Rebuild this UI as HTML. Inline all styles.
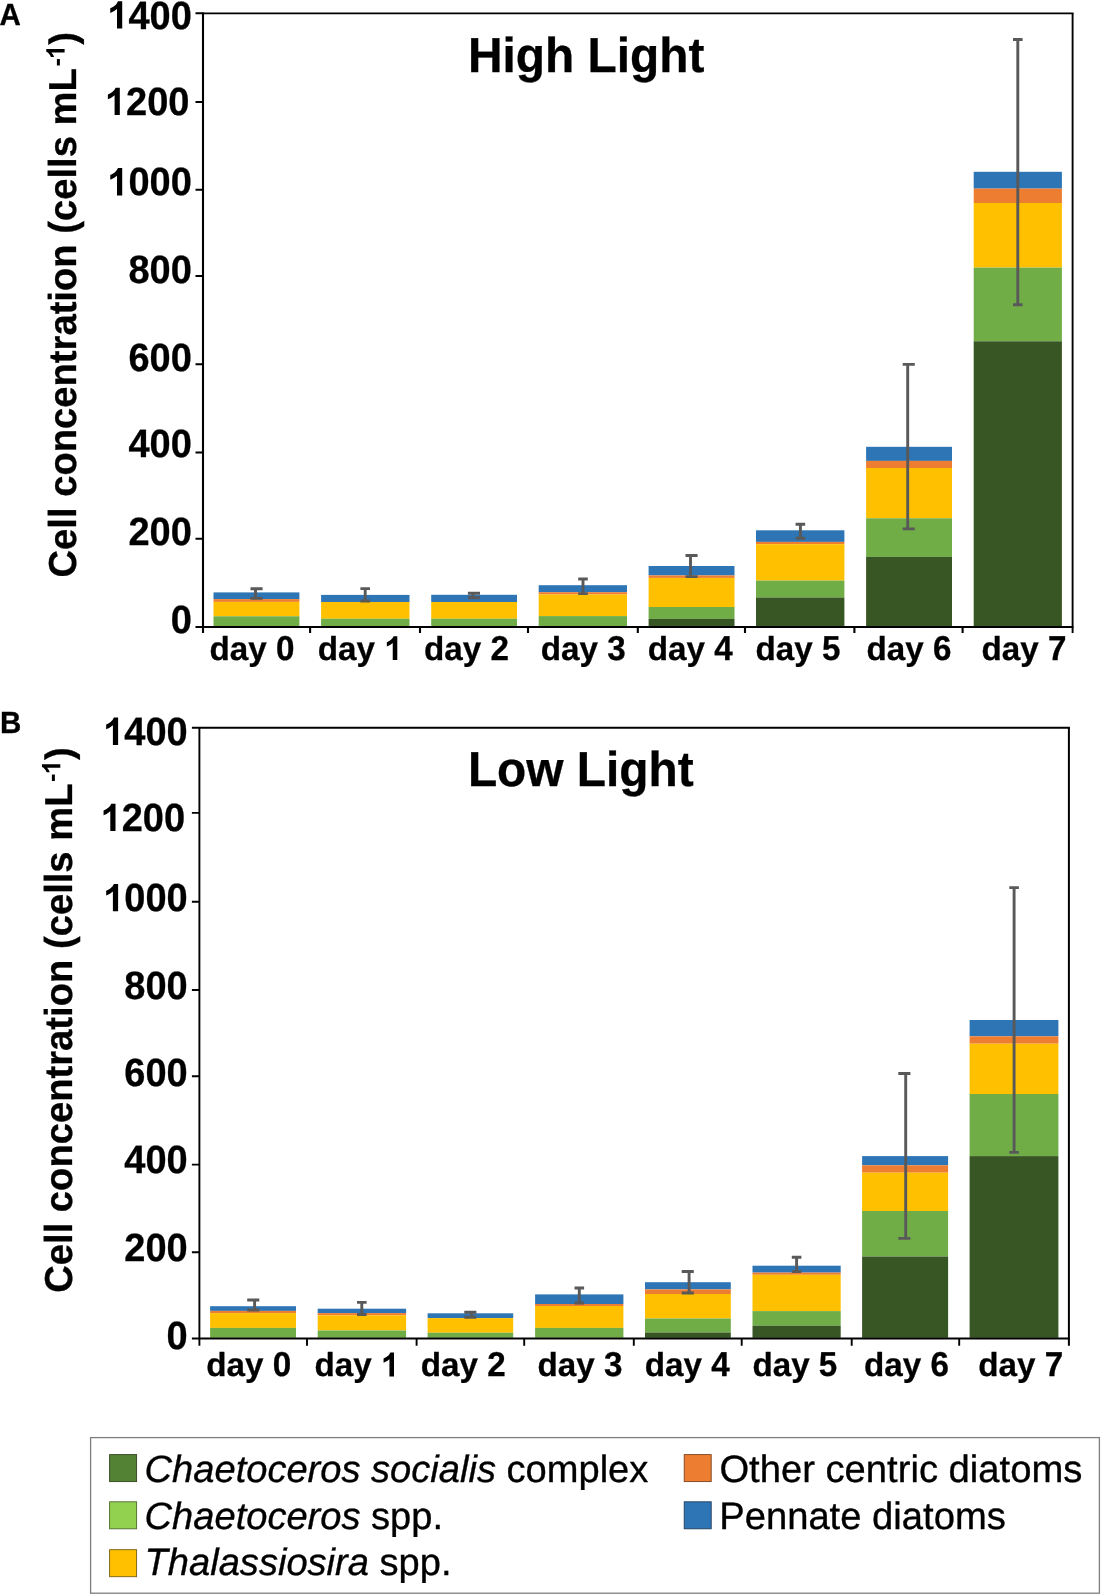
<!DOCTYPE html>
<html><head><meta charset="utf-8"><title>Figure</title>
<style>
html,body{margin:0;padding:0;background:#fff;}
svg{display:block;will-change:transform;}
text{font-family:"Liberation Sans", sans-serif;fill:#000;text-rendering:geometricPrecision;}
</style></head>
<body>
<svg width="1103" height="1596" viewBox="0 0 1103 1596">
<rect width="1103" height="1596" fill="#fff"/>
<g id="panelA">
<rect x="213.50" y="592.40" width="85.90" height="6.70" fill="#2E75B6"/>
<rect x="213.50" y="599.10" width="85.90" height="2.80" fill="#ED7D31"/>
<rect x="213.50" y="601.90" width="85.90" height="14.40" fill="#FFC000"/>
<rect x="213.50" y="616.30" width="85.90" height="9.90" fill="#70AD47"/>
<rect x="321.10" y="594.90" width="88.40" height="7.10" fill="#2E75B6"/>
<rect x="321.10" y="602.00" width="88.40" height="16.70" fill="#FFC000"/>
<rect x="321.10" y="618.70" width="88.40" height="7.50" fill="#70AD47"/>
<rect x="431.20" y="594.80" width="85.80" height="7.20" fill="#2E75B6"/>
<rect x="431.20" y="602.00" width="85.80" height="16.70" fill="#FFC000"/>
<rect x="431.20" y="618.70" width="85.80" height="7.50" fill="#70AD47"/>
<rect x="538.70" y="585.20" width="88.30" height="7.00" fill="#2E75B6"/>
<rect x="538.70" y="592.20" width="88.30" height="2.20" fill="#ED7D31"/>
<rect x="538.70" y="594.40" width="88.30" height="21.70" fill="#FFC000"/>
<rect x="538.70" y="616.10" width="88.30" height="10.10" fill="#70AD47"/>
<rect x="648.60" y="566.00" width="85.90" height="9.40" fill="#2E75B6"/>
<rect x="648.60" y="575.40" width="85.90" height="2.50" fill="#ED7D31"/>
<rect x="648.60" y="577.90" width="85.90" height="29.10" fill="#FFC000"/>
<rect x="648.60" y="607.00" width="85.90" height="11.90" fill="#70AD47"/>
<rect x="648.60" y="618.90" width="85.90" height="7.30" fill="#375623"/>
<rect x="756.00" y="530.30" width="88.40" height="11.60" fill="#2E75B6"/>
<rect x="756.00" y="541.90" width="88.40" height="2.30" fill="#ED7D31"/>
<rect x="756.00" y="544.20" width="88.40" height="36.40" fill="#FFC000"/>
<rect x="756.00" y="580.60" width="88.40" height="16.90" fill="#70AD47"/>
<rect x="756.00" y="597.50" width="88.40" height="28.70" fill="#375623"/>
<rect x="866.10" y="446.80" width="85.90" height="14.10" fill="#2E75B6"/>
<rect x="866.10" y="460.90" width="85.90" height="7.10" fill="#ED7D31"/>
<rect x="866.10" y="468.00" width="85.90" height="50.30" fill="#FFC000"/>
<rect x="866.10" y="518.30" width="85.90" height="38.60" fill="#70AD47"/>
<rect x="866.10" y="556.90" width="85.90" height="69.30" fill="#375623"/>
<rect x="973.70" y="171.80" width="88.20" height="16.80" fill="#2E75B6"/>
<rect x="973.70" y="188.60" width="88.20" height="14.40" fill="#ED7D31"/>
<rect x="973.70" y="203.00" width="88.20" height="64.60" fill="#FFC000"/>
<rect x="973.70" y="267.60" width="88.20" height="73.70" fill="#70AD47"/>
<rect x="973.70" y="341.30" width="88.20" height="284.90" fill="#375623"/>
<path d="M255.50 588.70V598.40M250.50 588.70H262.60M250.50 598.40H262.60" stroke="#595959" stroke-width="2.9" fill="none"/>
<path d="M365.20 588.60V601.00M360.40 588.60H370.00M360.40 601.00H370.00" stroke="#595959" stroke-width="2.9" fill="none"/>
<path d="M472.90 593.20V597.80M467.90 593.20H480.00M467.90 597.80H480.00" stroke="#595959" stroke-width="2.9" fill="none"/>
<path d="M583.00 579.00V593.60M578.20 579.00H587.80M578.20 593.60H587.80" stroke="#595959" stroke-width="2.9" fill="none"/>
<path d="M690.50 555.50V576.60M685.50 555.50H697.60M685.50 576.60H697.60" stroke="#595959" stroke-width="2.9" fill="none"/>
<path d="M800.40 524.30V538.30M795.60 524.30H805.20M795.60 538.30H805.20" stroke="#595959" stroke-width="2.9" fill="none"/>
<path d="M907.70 364.40V528.90M902.70 364.40H914.80M902.70 528.90H914.80" stroke="#595959" stroke-width="2.9" fill="none"/>
<path d="M1017.80 39.50V304.70M1013.00 39.50H1022.60M1013.00 304.70H1022.60" stroke="#595959" stroke-width="2.9" fill="none"/>
<path d="M203 13.3H1073.55" stroke="#000" stroke-width="1.8" fill="none"/>
<path d="M1072.6 13.3V633.0" stroke="#000" stroke-width="1.9" fill="none"/>
<path d="M203 12.5V633.0M195.5 627.0H1073.3999999999999" stroke="#000" stroke-width="2.1" fill="none"/>
<path d="M195.5 13.30H203M195.5 102.00H203M195.5 189.70H203M195.5 276.00H203M195.5 364.30H203M195.5 452.50H203M195.5 538.80H203" stroke="#000" stroke-width="2.1" fill="none"/>
<path d="M310.10 627.0V633.0M420.00 627.0V633.0M528.00 627.0V633.0M637.80 627.0V633.0M745.00 627.0V633.0M854.40 627.0V633.0M962.60 627.0V633.0" stroke="#000" stroke-width="2.1" fill="none"/>
<text transform="translate(191.8 28.6) rotate(0.02) scale(1.0 1.04)" font-size="38" font-weight="bold" stroke="#000" stroke-width="0.3" text-anchor="end">400</text>
<path transform="translate(107.26 28.60) scale(0.01855 -0.01855)" d="M806 0h-281v1059q-154 -144 -363 -213v255q110 36 239 136.5t177 234.5h228z" fill="#000"/>
<text transform="translate(189.4 115.0) rotate(0.02) scale(1.0 1.04)" font-size="38" font-weight="bold" stroke="#000" stroke-width="0.3" text-anchor="end">200</text>
<path transform="translate(104.86 115.00) scale(0.01855 -0.01855)" d="M806 0h-281v1059q-154 -144 -363 -213v255q110 36 239 136.5t177 234.5h228z" fill="#000"/>
<text transform="translate(191.8 195.4) rotate(0.02) scale(1.0 1.04)" font-size="38" font-weight="bold" stroke="#000" stroke-width="0.3" text-anchor="end">000</text>
<path transform="translate(107.26 195.40) scale(0.01855 -0.01855)" d="M806 0h-281v1059q-154 -144 -363 -213v255q110 36 239 136.5t177 234.5h228z" fill="#000"/>
<text transform="translate(191.8 283.3) rotate(0.02) scale(1.0 1.04)" font-size="38" font-weight="bold" stroke="#000" stroke-width="0.3" text-anchor="end">800</text>
<text transform="translate(191.8 370.9) rotate(0.02) scale(1.0 1.04)" font-size="38" font-weight="bold" stroke="#000" stroke-width="0.3" text-anchor="end">600</text>
<text transform="translate(191.8 457.4) rotate(0.02) scale(1.0 1.04)" font-size="38" font-weight="bold" stroke="#000" stroke-width="0.3" text-anchor="end">400</text>
<text transform="translate(191.8 545.3) rotate(0.02) scale(1.0 1.04)" font-size="38" font-weight="bold" stroke="#000" stroke-width="0.3" text-anchor="end">200</text>
<text transform="translate(191.8 632.6) rotate(0.02) scale(1.0 1.04)" font-size="38" font-weight="bold" stroke="#000" stroke-width="0.3" text-anchor="end">0</text>
<text transform="translate(209.5 660.1) rotate(0.02) scale(1.0 1.0)" font-size="33.2" font-weight="bold" stroke="#000" stroke-width="0.3">day</text>
<text transform="translate(275.93 660.1) rotate(0.02) scale(1.0 1.04)" font-size="33.2" font-weight="bold" stroke="#000" stroke-width="0.3">0</text>
<text transform="translate(317.8 660.1) rotate(0.02) scale(1.0 1.0)" font-size="33.2" font-weight="bold" stroke="#000" stroke-width="0.3">day</text>
<path transform="translate(384.23 660.10) scale(0.01621 -0.01621)" d="M806 0h-281v1059q-154 -144 -363 -213v255q110 36 239 136.5t177 234.5h228z" fill="#000"/>
<text transform="translate(424 660.1) rotate(0.02) scale(1.0 1.0)" font-size="33.2" font-weight="bold" stroke="#000" stroke-width="0.3">day</text>
<text transform="translate(490.43 660.1) rotate(0.02) scale(1.0 1.04)" font-size="33.2" font-weight="bold" stroke="#000" stroke-width="0.3">2</text>
<text transform="translate(540.8 660.1) rotate(0.02) scale(1.0 1.0)" font-size="33.2" font-weight="bold" stroke="#000" stroke-width="0.3">day</text>
<text transform="translate(607.23 660.1) rotate(0.02) scale(1.0 1.04)" font-size="33.2" font-weight="bold" stroke="#000" stroke-width="0.3">3</text>
<text transform="translate(647.8 660.1) rotate(0.02) scale(1.0 1.0)" font-size="33.2" font-weight="bold" stroke="#000" stroke-width="0.3">day</text>
<text transform="translate(714.23 660.1) rotate(0.02) scale(1.0 1.04)" font-size="33.2" font-weight="bold" stroke="#000" stroke-width="0.3">4</text>
<text transform="translate(755.6 660.1) rotate(0.02) scale(1.0 1.0)" font-size="33.2" font-weight="bold" stroke="#000" stroke-width="0.3">day</text>
<text transform="translate(822.03 660.1) rotate(0.02) scale(1.0 1.04)" font-size="33.2" font-weight="bold" stroke="#000" stroke-width="0.3">5</text>
<text transform="translate(866.6 660.1) rotate(0.02) scale(1.0 1.0)" font-size="33.2" font-weight="bold" stroke="#000" stroke-width="0.3">day</text>
<text transform="translate(933.03 660.1) rotate(0.02) scale(1.0 1.04)" font-size="33.2" font-weight="bold" stroke="#000" stroke-width="0.3">6</text>
<text transform="translate(981.6 660.1) rotate(0.02) scale(1.0 1.0)" font-size="33.2" font-weight="bold" stroke="#000" stroke-width="0.3">day</text>
<text transform="translate(1048.03 660.1) rotate(0.02) scale(1.0 1.04)" font-size="33.2" font-weight="bold" stroke="#000" stroke-width="0.3">7</text>
<text transform="translate(468.0 72) rotate(0.02) scale(1.0 1.025)" font-size="47.85" font-weight="bold" stroke="#000" stroke-width="0.3">High Light</text>
<text transform="translate(-0.6 25.0) rotate(0.02) scale(1.0 1.035)" font-size="29.5" font-weight="bold" stroke="#000" stroke-width="0.3">A</text>
<g transform="translate(76.3 577.5) rotate(-90)"><text transform="scale(1 1.02)" font-size="38.2" font-weight="bold" stroke="#000" stroke-width="0.3">Cell concentration (cells mL</text><text x="510.9" y="-11.7" font-size="25.5" font-weight="bold">-</text><path transform="translate(518.5 -11.7) scale(0.01245 -0.01245)" d="M806 0h-281v1059q-154 -144 -363 -213v255q110 36 239 136.5t177 234.5h228z" fill="#000"/><text x="532.8" y="0" font-size="38.2" font-weight="bold" stroke="#000" stroke-width="0.3">)</text></g>
</g>
<g id="panelB">
<rect x="210.10" y="1306.20" width="85.90" height="4.70" fill="#2E75B6"/>
<rect x="210.10" y="1310.90" width="85.90" height="2.20" fill="#ED7D31"/>
<rect x="210.10" y="1313.10" width="85.90" height="14.80" fill="#FFC000"/>
<rect x="210.10" y="1327.90" width="85.90" height="9.90" fill="#70AD47"/>
<rect x="317.70" y="1308.70" width="88.40" height="4.40" fill="#2E75B6"/>
<rect x="317.70" y="1313.10" width="88.40" height="2.20" fill="#ED7D31"/>
<rect x="317.70" y="1315.30" width="88.40" height="15.20" fill="#FFC000"/>
<rect x="317.70" y="1330.50" width="88.40" height="7.30" fill="#70AD47"/>
<rect x="427.60" y="1313.30" width="85.60" height="4.80" fill="#2E75B6"/>
<rect x="427.60" y="1318.10" width="85.60" height="14.60" fill="#FFC000"/>
<rect x="427.60" y="1332.70" width="85.60" height="5.10" fill="#70AD47"/>
<rect x="535.10" y="1294.40" width="88.30" height="9.60" fill="#2E75B6"/>
<rect x="535.10" y="1304.00" width="88.30" height="2.00" fill="#ED7D31"/>
<rect x="535.10" y="1306.00" width="88.30" height="21.90" fill="#FFC000"/>
<rect x="535.10" y="1327.90" width="88.30" height="9.90" fill="#70AD47"/>
<rect x="645.00" y="1282.20" width="85.80" height="7.20" fill="#2E75B6"/>
<rect x="645.00" y="1289.40" width="85.80" height="4.60" fill="#ED7D31"/>
<rect x="645.00" y="1294.00" width="85.80" height="24.50" fill="#FFC000"/>
<rect x="645.00" y="1318.50" width="85.80" height="14.00" fill="#70AD47"/>
<rect x="645.00" y="1332.50" width="85.80" height="5.30" fill="#375623"/>
<rect x="752.50" y="1265.70" width="88.20" height="6.90" fill="#2E75B6"/>
<rect x="752.50" y="1272.60" width="88.20" height="2.20" fill="#ED7D31"/>
<rect x="752.50" y="1274.80" width="88.20" height="36.30" fill="#FFC000"/>
<rect x="752.50" y="1311.10" width="88.20" height="14.60" fill="#70AD47"/>
<rect x="752.50" y="1325.70" width="88.20" height="12.10" fill="#375623"/>
<rect x="862.10" y="1156.10" width="86.00" height="9.20" fill="#2E75B6"/>
<rect x="862.10" y="1165.30" width="86.00" height="7.40" fill="#ED7D31"/>
<rect x="862.10" y="1172.70" width="86.00" height="38.30" fill="#FFC000"/>
<rect x="862.10" y="1211.00" width="86.00" height="45.50" fill="#70AD47"/>
<rect x="862.10" y="1256.50" width="86.00" height="81.30" fill="#375623"/>
<rect x="969.60" y="1020.00" width="88.80" height="16.30" fill="#2E75B6"/>
<rect x="969.60" y="1036.30" width="88.80" height="7.40" fill="#ED7D31"/>
<rect x="969.60" y="1043.70" width="88.80" height="50.30" fill="#FFC000"/>
<rect x="969.60" y="1094.00" width="88.80" height="62.10" fill="#70AD47"/>
<rect x="969.60" y="1156.10" width="88.80" height="181.70" fill="#375623"/>
<path d="M254.60 1300.00V1310.00M247.20 1300.00H259.30M247.20 1310.00H259.30" stroke="#595959" stroke-width="2.9" fill="none"/>
<path d="M361.80 1302.40V1314.50M357.00 1302.40H366.60M357.00 1314.50H366.60" stroke="#595959" stroke-width="2.9" fill="none"/>
<path d="M471.70 1312.20V1317.20M464.30 1312.20H476.40M464.30 1317.20H476.40" stroke="#595959" stroke-width="2.9" fill="none"/>
<path d="M579.30 1288.00V1303.00M574.50 1288.00H584.10M574.50 1303.00H584.10" stroke="#595959" stroke-width="2.9" fill="none"/>
<path d="M689.10 1271.50V1293.00M681.70 1271.50H693.80M681.70 1293.00H693.80" stroke="#595959" stroke-width="2.9" fill="none"/>
<path d="M796.60 1257.30V1271.60M791.80 1257.30H801.40M791.80 1271.60H801.40" stroke="#595959" stroke-width="2.9" fill="none"/>
<path d="M905.70 1073.50V1238.40M898.30 1073.50H910.40M898.30 1238.40H910.40" stroke="#595959" stroke-width="2.9" fill="none"/>
<path d="M1014.10 887.60V1152.40M1009.30 887.60H1018.90M1009.30 1152.40H1018.90" stroke="#595959" stroke-width="2.9" fill="none"/>
<path d="M199.4 727.7H1069.9" stroke="#000" stroke-width="1.9" fill="none"/>
<path d="M1068.9 727.7V1345.8" stroke="#000" stroke-width="2.0" fill="none"/>
<path d="M199.4 726.9000000000001V1345.8M191.9 1338.5H1069.7" stroke="#000" stroke-width="1.9" fill="none"/>
<path d="M191.9 727.70H199.4M191.9 812.90H199.4M191.9 901.80H199.4M191.9 990.00H199.4M191.9 1076.20H199.4M191.9 1164.60H199.4M191.9 1252.20H199.4" stroke="#000" stroke-width="1.9" fill="none"/>
<path d="M307.00 1338.5V1345.8M416.60 1338.5V1345.8M524.20 1338.5V1345.8M633.80 1338.5V1345.8M741.70 1338.5V1345.8M851.70 1338.5V1345.8M959.20 1338.5V1345.8" stroke="#000" stroke-width="1.9" fill="none"/>
<text transform="translate(187.7 744.9) rotate(0.02) scale(1.0 1.04)" font-size="38" font-weight="bold" stroke="#000" stroke-width="0.3" text-anchor="end">400</text>
<path transform="translate(103.16 744.90) scale(0.01855 -0.01855)" d="M806 0h-281v1059q-154 -144 -363 -213v255q110 36 239 136.5t177 234.5h228z" fill="#000"/>
<text transform="translate(185.1 831.0) rotate(0.02) scale(1.0 1.04)" font-size="38" font-weight="bold" stroke="#000" stroke-width="0.3" text-anchor="end">200</text>
<path transform="translate(100.56 831.00) scale(0.01855 -0.01855)" d="M806 0h-281v1059q-154 -144 -363 -213v255q110 36 239 136.5t177 234.5h228z" fill="#000"/>
<text transform="translate(187.7 911.2) rotate(0.02) scale(1.0 1.04)" font-size="38" font-weight="bold" stroke="#000" stroke-width="0.3" text-anchor="end">000</text>
<path transform="translate(103.16 911.20) scale(0.01855 -0.01855)" d="M806 0h-281v1059q-154 -144 -363 -213v255q110 36 239 136.5t177 234.5h228z" fill="#000"/>
<text transform="translate(187.7 998.6) rotate(0.02) scale(1.0 1.04)" font-size="38" font-weight="bold" stroke="#000" stroke-width="0.3" text-anchor="end">800</text>
<text transform="translate(187.7 1085.6) rotate(0.02) scale(1.0 1.04)" font-size="38" font-weight="bold" stroke="#000" stroke-width="0.3" text-anchor="end">600</text>
<text transform="translate(187.7 1173.2) rotate(0.02) scale(1.0 1.04)" font-size="38" font-weight="bold" stroke="#000" stroke-width="0.3" text-anchor="end">400</text>
<text transform="translate(187.7 1260.8) rotate(0.02) scale(1.0 1.04)" font-size="38" font-weight="bold" stroke="#000" stroke-width="0.3" text-anchor="end">200</text>
<text transform="translate(187.7 1348.7) rotate(0.02) scale(1.0 1.04)" font-size="38" font-weight="bold" stroke="#000" stroke-width="0.3" text-anchor="end">0</text>
<text transform="translate(206.2 1376.4) rotate(0.02) scale(1.0 1.0)" font-size="33.2" font-weight="bold" stroke="#000" stroke-width="0.3">day</text>
<text transform="translate(272.63 1376.4) rotate(0.02) scale(1.0 1.04)" font-size="33.2" font-weight="bold" stroke="#000" stroke-width="0.3">0</text>
<text transform="translate(314.5 1376.4) rotate(0.02) scale(1.0 1.0)" font-size="33.2" font-weight="bold" stroke="#000" stroke-width="0.3">day</text>
<path transform="translate(380.93 1376.40) scale(0.01621 -0.01621)" d="M806 0h-281v1059q-154 -144 -363 -213v255q110 36 239 136.5t177 234.5h228z" fill="#000"/>
<text transform="translate(420.7 1376.4) rotate(0.02) scale(1.0 1.0)" font-size="33.2" font-weight="bold" stroke="#000" stroke-width="0.3">day</text>
<text transform="translate(487.13 1376.4) rotate(0.02) scale(1.0 1.04)" font-size="33.2" font-weight="bold" stroke="#000" stroke-width="0.3">2</text>
<text transform="translate(537.6 1376.4) rotate(0.02) scale(1.0 1.0)" font-size="33.2" font-weight="bold" stroke="#000" stroke-width="0.3">day</text>
<text transform="translate(604.03 1376.4) rotate(0.02) scale(1.0 1.04)" font-size="33.2" font-weight="bold" stroke="#000" stroke-width="0.3">3</text>
<text transform="translate(644.8 1376.4) rotate(0.02) scale(1.0 1.0)" font-size="33.2" font-weight="bold" stroke="#000" stroke-width="0.3">day</text>
<text transform="translate(711.23 1376.4) rotate(0.02) scale(1.0 1.04)" font-size="33.2" font-weight="bold" stroke="#000" stroke-width="0.3">4</text>
<text transform="translate(752.4 1376.4) rotate(0.02) scale(1.0 1.0)" font-size="33.2" font-weight="bold" stroke="#000" stroke-width="0.3">day</text>
<text transform="translate(818.83 1376.4) rotate(0.02) scale(1.0 1.04)" font-size="33.2" font-weight="bold" stroke="#000" stroke-width="0.3">5</text>
<text transform="translate(864.1 1376.4) rotate(0.02) scale(1.0 1.0)" font-size="33.2" font-weight="bold" stroke="#000" stroke-width="0.3">day</text>
<text transform="translate(930.53 1376.4) rotate(0.02) scale(1.0 1.04)" font-size="33.2" font-weight="bold" stroke="#000" stroke-width="0.3">6</text>
<text transform="translate(978.2 1376.4) rotate(0.02) scale(1.0 1.0)" font-size="33.2" font-weight="bold" stroke="#000" stroke-width="0.3">day</text>
<text transform="translate(1044.63 1376.4) rotate(0.02) scale(1.0 1.04)" font-size="33.2" font-weight="bold" stroke="#000" stroke-width="0.3">7</text>
<text transform="translate(467.9 786.3) rotate(0.02) scale(1.0 1.025)" font-size="47.85" font-weight="bold" stroke="#000" stroke-width="0.3">Low Light</text>
<text transform="translate(0.0 733.2) rotate(0.02) scale(1.0 1.035)" font-size="29.5" font-weight="bold" stroke="#000" stroke-width="0.3">B</text>
<g transform="translate(72.0 1292.8) rotate(-90)"><text transform="scale(1 1.02)" font-size="38.2" font-weight="bold" stroke="#000" stroke-width="0.3">Cell concentration (cells mL</text><text x="510.9" y="-11.7" font-size="25.5" font-weight="bold">-</text><path transform="translate(518.5 -11.7) scale(0.01245 -0.01245)" d="M806 0h-281v1059q-154 -144 -363 -213v255q110 36 239 136.5t177 234.5h228z" fill="#000"/><text x="532.8" y="0" font-size="38.2" font-weight="bold" stroke="#000" stroke-width="0.3">)</text></g>
</g>
<g id="legend">
<rect x="90.6" y="1437.6" width="1008.8" height="155.6" fill="#fff" stroke="#7f7f7f" stroke-width="1.3"/>
<rect x="109.6" y="1454.6" width="27.0" height="27.0" fill="#548235" stroke="#33431f" stroke-width="0.9"/>
<rect x="109.6" y="1501.8" width="27.0" height="27.0" fill="#92D050" stroke="#4d6a2c" stroke-width="0.9"/>
<rect x="109.6" y="1549.7" width="27.0" height="27.0" fill="#FFC000" stroke="#7a5d10" stroke-width="0.9"/>
<rect x="684.2" y="1454.6" width="27.0" height="27.0" fill="#ED7D31" stroke="#7a431e" stroke-width="0.9"/>
<rect x="684.2" y="1501.8" width="27.0" height="27.0" fill="#2E75B6" stroke="#203d5c" stroke-width="0.9"/>
<text transform="translate(144.6 1482.0) rotate(0.02) scale(1.0 1.0)" font-size="38.1" stroke="#000" stroke-width="0.35"><tspan font-style="italic">Chaetoceros socialis</tspan> complex</text>
<text transform="translate(144.6 1528.6) rotate(0.02) scale(1.0 1.0)" font-size="38.1" stroke="#000" stroke-width="0.35"><tspan font-style="italic">Chaetoceros</tspan> spp.</text>
<text transform="translate(144.6 1575.0) rotate(0.02) scale(1.0 1.0)" font-size="38.1" stroke="#000" stroke-width="0.35"><tspan font-style="italic">Thalassiosira</tspan> spp.</text>
<text transform="translate(719.4 1482.0) rotate(0.02) scale(1.0 1.0)" font-size="38.2" stroke="#000" stroke-width="0.35">Other centric diatoms</text>
<text transform="translate(719.2 1528.6) rotate(0.02) scale(1.0 1.0)" font-size="38.2" stroke="#000" stroke-width="0.35">Pennate diatoms</text>
</g>
</svg>
</body></html>
